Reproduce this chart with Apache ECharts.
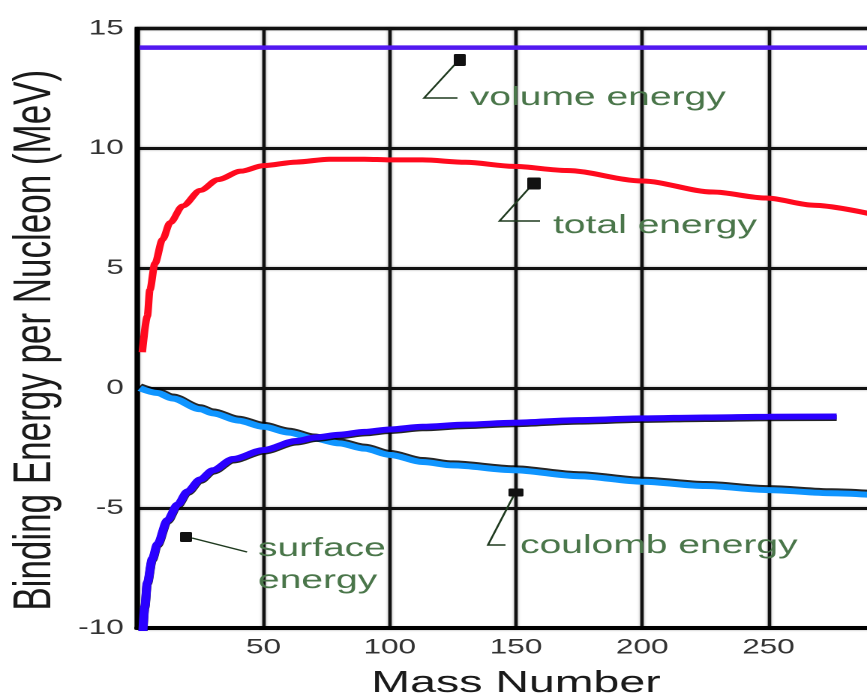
<!DOCTYPE html>
<html>
<head>
<meta charset="utf-8">
<script src="https://cdn.jsdelivr.net/npm/echarts/dist/echarts.min.js"></script>
<style>
  html, body { margin: 0; padding: 0; overflow: hidden; background: #fff; }
  #main { width: 578px; height: 696px; transform: scaleX(1.5); transform-origin: 0 0; }
</style>
</head>
<body>
<div id="main"></div>
<script>
// ---- data ----
const yTicks = [-10, -5, 0, 5, 10, 15];
const xTicks = [50, 100, 150, 200, 250];

const massVolume = [1, 50, 100, 150, 200, 250, 300];
const volumeEnergy = [14.2, 14.2, 14.2, 14.2, 14.2, 14.2, 14.2];

const massTotal = [2, 4, 5, 7, 10, 13, 18, 25, 32, 41, 50, 63, 76, 90, 100, 113, 130, 149, 170, 200, 228, 249, 268, 290];
const totalEnergy = [1.5, 3.0, 4.1, 5.2, 6.2, 6.9, 7.6, 8.25, 8.7, 9.05, 9.28, 9.43, 9.55, 9.55, 9.52, 9.52, 9.42, 9.25, 9.08, 8.64, 8.18, 7.93, 7.63, 7.28];

const massCoulomb = [1, 8, 14, 25, 30, 40, 50, 60, 70, 80, 90, 100, 113, 125, 149, 175, 200, 225, 250, 275, 295];
const coulombEnergy = [0, -0.2, -0.43, -0.88, -1.05, -1.35, -1.61, -1.85, -2.1, -2.3, -2.52, -2.78, -3.08, -3.22, -3.42, -3.67, -3.9, -4.08, -4.25, -4.38, -4.48];

const massSurface = [2, 3, 4, 6, 8, 12, 16, 20, 25, 30, 38, 50, 63, 71, 80, 90, 100, 113, 130, 149, 175, 200, 225, 250, 277];
const surfaceEnergy = [-10.6, -9.1, -8.1, -7.1, -6.5, -5.5, -4.85, -4.3, -3.8, -3.42, -2.95, -2.58, -2.2, -2.05, -1.94, -1.82, -1.72, -1.61, -1.52, -1.44, -1.33, -1.26, -1.22, -1.19, -1.18];

const zip = (xs, ys) => xs.map((x, i) => [x, ys[i]]);

const FONT = 'Liberation Sans, Arial, Helvetica, sans-serif';
const annColor = '#4a764a';
const annStroke = { stroke: '#1f3a1f', lineWidth: 1.4, fill: null };

const chart = echarts.init(document.getElementById('main'), null, { renderer: 'canvas', devicePixelRatio: 2 });

function annText(x, y, text) {
  return { type: 'text', x: x, y: y, z: 100,
    style: { text: text, fill: annColor, font: '26px ' + FONT, textAlign: 'left', textVerticalAlign: 'middle' } };
}
function annLine(points) {
  return { type: 'polyline', z: 100, shape: { points: points }, style: annStroke };
}
function annBox(x, y, w, h) {
  return { type: 'rect', z: 100, shape: { x: x, y: y, width: w, height: h, r: 1 }, style: { fill: '#111' } };
}

chart.setOption({
  animation: false,
  backgroundColor: '#ffffff',
  grid: { left: 91.5, top: 28.5, width: 505, height: 599.5, containLabel: false, outerBoundsMode: 'none',
    show: true, borderColor: '#000', borderWidth: 3.5, backgroundColor: 'transparent' },
  xAxis: {
    type: 'value', min: 0, max: 300, interval: 50,
    name: 'Mass Number', nameLocation: 'middle', nameGap: 40,
    nameTextStyle: { fontFamily: FONT, fontSize: 31, color: '#1a1a1a' },
    axisLine: { show: true, onZero: false, lineStyle: { color: '#000', width: 4 } },
    axisTick: { show: false },
    axisLabel: { showMinLabel: false, showMaxLabel: false, margin: 9, fontFamily: FONT, fontSize: 21, color: '#333',
      formatter: v => xTicks.indexOf(v) >= 0 ? String(v) : '' },
    splitLine: { show: true, lineStyle: { color: '#111', width: 2.3, shadowColor: 'rgba(0,0,0,0.35)', shadowBlur: 2 } }
  },
  yAxis: {
    type: 'value', min: -10, max: 15, interval: 5,
    name: 'Binding Energy per Nucleon (MeV)', nameLocation: 'middle', nameGap: 50,
    nameTextStyle: { fontFamily: FONT, fontSize: 35, color: '#1a1a1a', padding: [0, 24, 0, 0] },
    axisLine: { show: true, onZero: false, lineStyle: { color: '#000', width: 3.3 } },
    axisTick: { show: false },
    axisLabel: { margin: 9, fontFamily: FONT, fontSize: 21, color: '#333',
      formatter: v => yTicks.indexOf(v) >= 0 ? String(v) : '' },
    splitLine: { show: true, lineStyle: { color: '#111', width: 3, shadowColor: 'rgba(0,0,0,0.35)', shadowBlur: 2 } }
  },
  series: [
    { name: 'volume energy', type: 'line', data: zip(massVolume, volumeEnergy), showSymbol: false,
      lineStyle: { color: '#5218f0', width: 4.5 } },
    { name: 'total energy', type: 'line', data: zip(massTotal, totalEnergy), showSymbol: false,
      smooth: 0.3, smoothMonotone: 'x', lineStyle: { color: '#ff0a1e', width: 5 } },
    { name: 'coulomb energy', type: 'line', data: zip(massCoulomb, coulombEnergy), showSymbol: false,
      smooth: 0.3, smoothMonotone: 'x',
      lineStyle: { color: '#0f95ff', width: 6, shadowColor: 'rgba(0,0,0,0.85)', shadowBlur: 0, shadowOffsetY: -2 } },
    { name: 'surface energy', type: 'line', data: zip(massSurface, surfaceEnergy), showSymbol: false,
      smooth: 0.3, smoothMonotone: 'x',
      lineStyle: { color: '#2a00ff', width: 6, shadowColor: 'rgba(0,0,0,0.85)', shadowBlur: 0, shadowOffsetY: 1.5 } }
  ],
  graphic: [
    // volume energy
    annLine([[306, 60], [282.7, 98], [305, 98]]),
    annBox(302.5, 54, 8, 12),
    annText(313.3, 98, 'volume energy'),
    // total energy
    annLine([[354, 186], [333, 221], [360, 221]]),
    annBox(351.5, 177.5, 9, 12),
    annText(368.7, 226, 'total energy'),
    // coulomb energy
    annLine([[343, 494], [325.3, 545], [337, 545]]),
    annBox(339, 488.5, 10, 8),
    annText(346.7, 546, 'coulomb energy'),
    // surface energy
    annLine([[128, 538], [164.7, 552]]),
    annBox(120, 532, 8, 10),
    annText(172, 549, 'surface'),
    annText(172, 581, 'energy')
  ]
});
</script>
</body>
</html>
